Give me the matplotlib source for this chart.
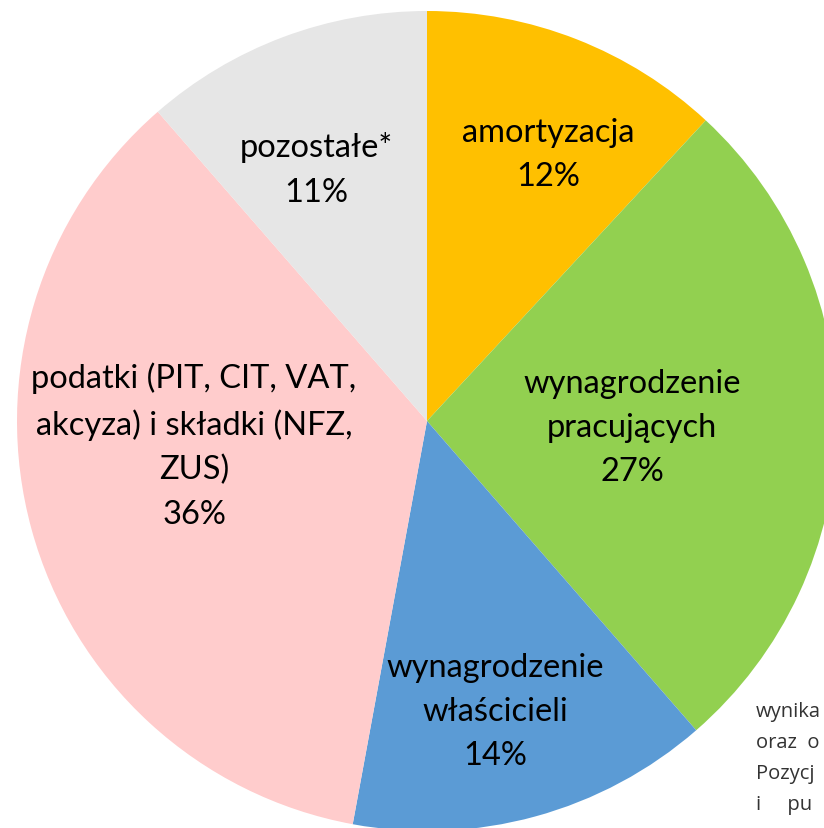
import matplotlib.pyplot as plt

# -------------------------
# Data
# -------------------------
categories = ["amortyzacja", "wynagrodzenie\npracujących",
              "wynagrodzenie\nwłaścicieli",
              "podatki (PIT, CIT, VAT,\nakcyza) i składki (NFZ,\nZUS)",
              "pozostałe*"]
shares = [11.9, 26.7, 14.3, 35.7, 11.4]
colors = ["#FFC000", "#92D050", "#5B9BD5", "#FFCCCC", "#E6E6E6"]

# label anchor points in pixel space (x, y from top)
label_pos = [(548, 155), (632, 428), (495, 712), (194, 446), (316, 170)]

W, H = 824, 829
plt.rcParams['font.family'] = ['Lato', 'DejaVu Sans']

fig = plt.figure(figsize=(W / 100, H / 100), dpi=100)
ax = fig.add_axes([0, 0, 1, 1])

ax.pie(shares, colors=colors, startangle=90, counterclock=False,
       center=(427, H - 422), radius=410, frame=True,
       wedgeprops={"linewidth": 0})

for cat, val, (px, py) in zip(categories, shares, label_pos):
    ax.text(px, H - py, f"{cat}\n{round(val)}%", ha="center", va="center",
            fontsize=23.5, color="black", linespacing=1.6)

# visible part of the page text behind the chart
side_lines = ["wynika", "oraz  o", "Pozycj", "i     pu"]
for i, line in enumerate(side_lines):
    ax.text(756, H - (712 + i * 31), line, ha="left", va="center",
            fontsize=14.5, color="#333333", family=["Open Sans", "DejaVu Sans"])

ax.set_xlim(0, W)
ax.set_ylim(0, H)
ax.set_aspect("equal")
ax.axis("off")

plt.savefig("out.png", dpi=100)
plt.close()
